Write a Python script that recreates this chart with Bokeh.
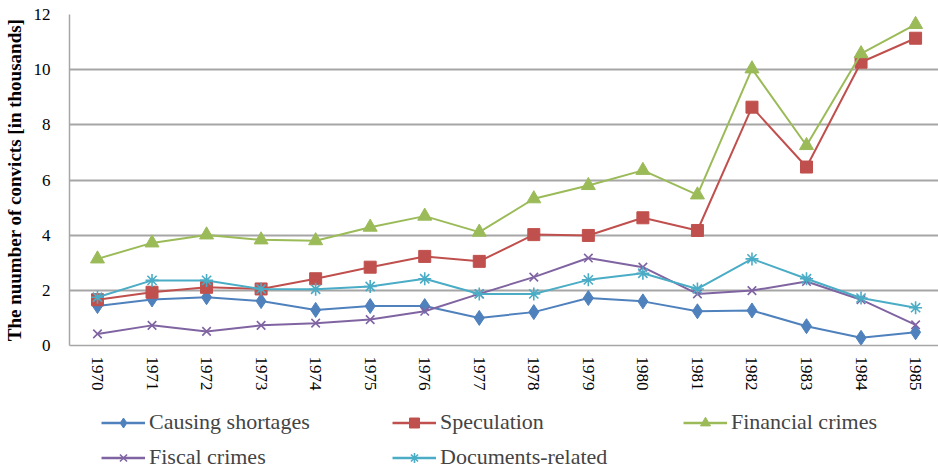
from bokeh.plotting import figure
from bokeh.models import Legend, LegendItem, FixedTicker, Range1d
from bokeh.layouts import column
from bokeh.embed import file_html
from bokeh.resources import INLINE

years = list(range(1970, 1986))
causing_shortages = [1.43, 1.67, 1.75, 1.61, 1.29, 1.43, 1.43, 1.00, 1.21, 1.72, 1.60, 1.24, 1.27, 0.70, 0.28, 0.48]
speculation = [1.66, 1.93, 2.11, 2.05, 2.42, 2.84, 3.23, 3.05, 4.02, 3.99, 4.63, 4.17, 8.64, 6.47, 10.27, 11.14]
financial_crimes = [3.14, 3.72, 4.01, 3.83, 3.80, 4.29, 4.69, 4.11, 5.32, 5.80, 6.35, 5.46, 10.03, 7.25, 10.58, 11.64]
fiscal_crimes = [0.42, 0.73, 0.51, 0.73, 0.81, 0.94, 1.24, 1.87, 2.48, 3.17, 2.84, 1.87, 1.99, 2.32, 1.66, 0.75]
documents_related = [1.75, 2.36, 2.36, 2.05, 2.04, 2.14, 2.42, 1.87, 1.87, 2.38, 2.62, 2.05, 3.14, 2.42, 1.72, 1.37]
y_ticks = [0, 2, 4, 6, 8, 10, 12]

series = [
    ("Causing shortages", causing_shortages, "#4F81BD", "diamond", 15),
    ("Speculation", speculation, "#C0504D", "square", 12),
    ("Financial crimes", financial_crimes, "#9BBB59", "triangle", 14),
    ("Fiscal crimes", fiscal_crimes, "#8064A2", "x", 12),
    ("Documents-related", documents_related, "#4BACC6", "asterisk", 13),
]

FONT = "Liberation Serif"
GRID = "#A6A6A6"

p = figure(width=938, height=395, output_backend="svg", toolbar_location=None,
           x_range=Range1d(1969.487, 1985.42), y_range=Range1d(0, 12),
           min_border_left=68, min_border_right=0, min_border_top=14, min_border_bottom=50)
p.outline_line_color = None

leg_fig = figure(width=938, height=73, output_backend="svg", toolbar_location=None,
                 x_range=Range1d(0, 1), y_range=Range1d(0, 1),
                 x_axis_location=None, y_axis_location=None,
                 min_border_left=0, min_border_right=0, min_border_top=0, min_border_bottom=0)
leg_fig.grid.visible = False
leg_fig.outline_line_color = None

# off-screen anchor for the legend swatches (outside the legend figure's ranges)
off_x = [-10, -9]
off_y = [-10, -10]

items = []
for name, vals, color, marker, size in series:
    p.line(years, vals, line_color=color, line_width=2)
    if marker in ("x", "asterisk"):
        p.scatter(years, vals, marker=marker, size=size, line_color=color, line_width=1.6)
    else:
        p.scatter(years, vals, marker=marker, size=size, fill_color=color, line_color=color)
    l1 = leg_fig.line(off_x, off_y, line_color=color, line_width=2.5)
    if marker in ("x", "asterisk"):
        l2 = leg_fig.scatter(off_x, off_y, marker=marker, size=10, line_color=color, line_width=1.6)
    else:
        l2 = leg_fig.scatter(off_x, off_y, marker=marker, size=10, fill_color=color, line_color=color)
    items.append(LegendItem(label=name, renderers=[l1, l2], index=0))

p.xaxis.ticker = FixedTicker(ticks=years)
p.xaxis.major_label_orientation = "vertical"
p.yaxis.ticker = FixedTicker(ticks=y_ticks)
for ax in (p.xaxis, p.yaxis):
    ax.axis_line_color = GRID
    ax.axis_line_width = 1.5
    ax.major_tick_line_color = None
    ax.minor_tick_line_color = None
    ax.major_label_text_font = FONT
    ax.major_label_text_font_size = "17px"
    ax.major_label_text_color = "black"
p.xaxis.major_label_standoff = 5
p.yaxis.major_label_standoff = 13
p.yaxis.axis_label = "The nuumber of convicts [in thousands]"
p.yaxis.axis_label_text_font = FONT
p.yaxis.axis_label_text_font_size = "19px"
p.yaxis.axis_label_text_font_style = "bold"
p.yaxis.axis_label_text_color = "black"
p.yaxis.axis_label_standoff = 6

p.xgrid.grid_line_color = None
p.ygrid.grid_line_color = GRID
p.ygrid.grid_line_width = 2

legend = Legend(items=items, orientation="horizontal", ncols=3, location=(32, -2),
                glyph_width=44, glyph_height=25, label_height=25, label_width=234,
                label_standoff=4, spacing=9, padding=0, margin=0,
                label_text_font=FONT, label_text_font_size="22px",
                background_fill_alpha=0, border_line_color=None)
leg_fig.add_layout(legend, "center")

layout = column(p, leg_fig, spacing=0)
open("out.html", "w").write(file_html(layout, INLINE))
